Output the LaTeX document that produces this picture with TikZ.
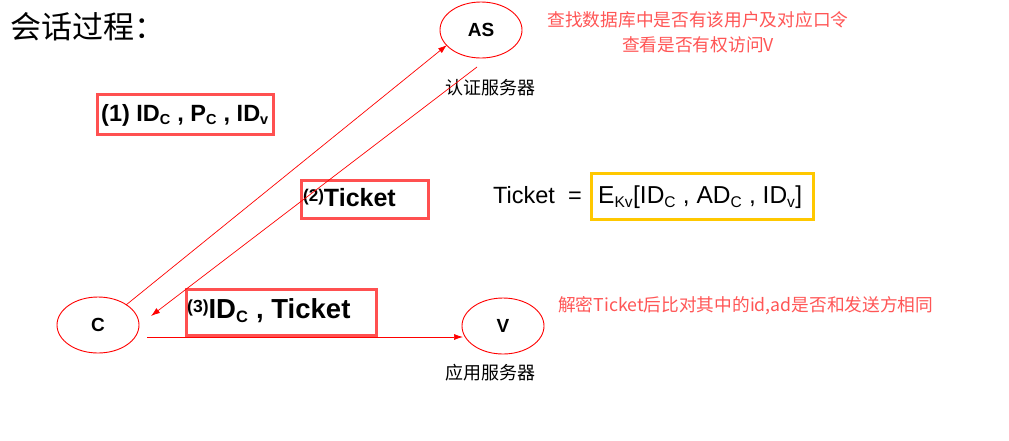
\documentclass[tikz,border=0pt]{standalone}
\usepackage{fontspec}
\setmainfont{Liberation Sans}
\newfontfamily\cjk{Noto Sans CJK SC}
\usetikzlibrary{arrows.meta,shapes.geometric}
\definecolor{lred}{RGB}{255,80,80}
\definecolor{txtred}{RGB}{255,85,85}
\definecolor{ared}{RGB}{255,0,0}
\definecolor{ybox}{RGB}{255,200,0}
\tikzset{
  ent/.style={draw=ared, line width=0.9pt, ellipse, minimum width=82pt, minimum height=56pt, inner sep=0pt, font=\fontsize{19}{19}\selectfont\bfseries},
  msgbox/.style={draw=lred, line width=2.6pt, inner sep=0pt, anchor=north west},
  arr/.style={draw=ared, line width=0.7pt, -{Latex[length=9pt,width=6pt]}},
  capt/.style={font=\cjk\fontsize{18}{18}\selectfont, text=black},
  note/.style={font=\cjk\fontsize{17.7}{25}\selectfont, text=txtred, align=center}
}
\begin{document}
\begin{tikzpicture}[x=1pt,y=-1pt]
\useasboundingbox (0,0) rectangle (1009,440);
\node[font=\cjk\fontsize{31}{31}\selectfont, anchor=west] (title) at (7,27) {会话过程：};
\node[ent] (AS) at (481,30) {AS};
\node[ent] (C) at (98,325) {C};
\node[ent] (V) at (503,326) {V};
\node[capt] (ascap) at (490,88) {认证服务器};
\node[capt] (vcap) at (490,373) {应用服务器};
\node[note] (n1) at (698,32) {查找数据库中是否有该用户及对应口令\\查看是否有权访问V};
\node[note, anchor=west, inner sep=0pt] (n2) at (558,306) {解密Ticket后比对其中的id,ad是否和发送方相同};
% message boxes
\node[msgbox, minimum width=176pt, minimum height=40pt] (b1) at (96,93) {};
\node[font=\fontsize{23.5}{23.5}\selectfont\bfseries, anchor=west, inner sep=0pt] (t1) at (101,115) {(1) ID$_{\mbox{\fontsize{14.5}{14.5}\selectfont C}}$ , P$_{\mbox{\fontsize{14.5}{14.5}\selectfont C}}$ , ID$_{\mbox{\fontsize{14.5}{14.5}\selectfont v}}$};
\node[msgbox, minimum width=127pt, minimum height=38pt] (b2) at (300,179) {};
\node[font=\fontsize{25}{25}\selectfont\bfseries, anchor=west, inner sep=0pt] (t2) at (303,198) {\raisebox{5pt}{\fontsize{17}{17}\selectfont(2)}Ticket};
\node[msgbox, minimum width=190pt, minimum height=46pt] (b3) at (185,288) {};
\node[font=\fontsize{27.5}{27.5}\selectfont\bfseries, anchor=west, inner sep=0pt] (t3) at (187,311) {\raisebox{6pt}{\fontsize{17.5}{17.5}\selectfont(3)}ID$_{\mbox{\fontsize{16.5}{16.5}\selectfont C}}$ , Ticket};
% ticket definition
\node[font=\fontsize{23.5}{23.5}\selectfont, anchor=west, inner sep=0pt] (tk) at (493,195) {Ticket \ =};
\node[draw=ybox, line width=2.6pt, minimum width=222pt, minimum height=46pt, inner sep=0pt, anchor=north west] (yb) at (590,172) {};
\node[font=\fontsize{24.5}{24.5}\selectfont, anchor=west, inner sep=0pt] (tdef) at (598,197) {E$_{\mbox{\fontsize{15.5}{15.5}\selectfont Kv}}$[ID$_{\mbox{\fontsize{15.5}{15.5}\selectfont C}}$ , AD$_{\mbox{\fontsize{15.5}{15.5}\selectfont C}}$ , ID$_{\mbox{\fontsize{15.5}{15.5}\selectfont v}}$]};
% connectors
\coordinate (s1) at (126,305);
\coordinate (e1) at (447,45);
\coordinate (s2) at (477,67);
\coordinate (e2) at (151,316);
\coordinate (s3) at (147,337);
\coordinate (e3) at (463,337);
\draw[arr] (s1) -- (e1);
\draw[arr] (s2) -- (e2);
\draw[arr] (s3) -- (e3);
\end{tikzpicture}
\end{document}
